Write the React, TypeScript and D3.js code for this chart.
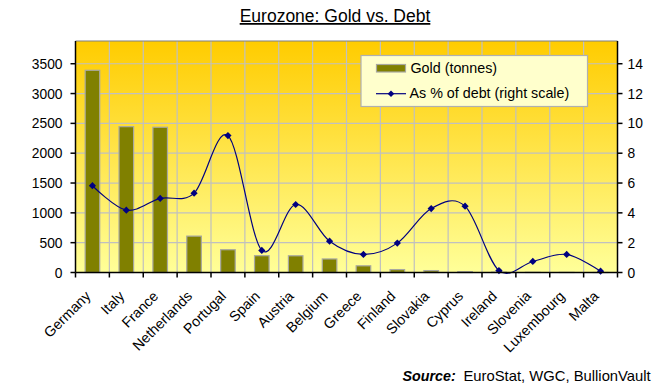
import React from "react";
import * as d3 from "d3";

const countries = ["Germany","Italy","France","Netherlands","Portugal","Spain","Austria","Belgium","Greece","Finland","Slovakia","Cyprus","Ireland","Slovenia","Luxembourg","Malta"];
const goldTonnes = [3390,2445,2435,610,382,282,280,227,112,49,32,14,6,3,2,0.3];
const pctOfDebt = [5.82,4.18,4.97,5.32,9.18,1.48,4.56,2.1,1.21,1.97,4.29,4.45,0.13,0.74,1.21,0.09];
const leftTicks = [0,500,1000,1500,2000,2500,3000,3500];
const rightTicks = [0,2,4,6,8,10,12,14];

const W = 663, H = 384;
const L = 75.5, R = 617.5, T = 41, B = 272.5;

export default function App() {
  const x = d3.scaleBand().domain(countries).range([L, R]).padding(0);
  const yL = d3.scaleLinear().domain([0, 3881]).range([B, T]);
  const yR = d3.scaleLinear().domain([0, 15.524]).range([B, T]);
  const step = x.step();
  const bw = step * 0.43;
  const cx = (c: string) => (x(c) as number) + step / 2;
  const line = d3.line<number>()
    .x((_, i) => cx(countries[i]))
    .y((d) => yR(d))
    .curve(d3.curveCardinal.tension(0));
  const font = "Arial, 'Liberation Sans', sans-serif";
  const diamond = (px: number, py: number, r = 3.6) =>
    `M${px},${py - r}L${px + r},${py}L${px},${py + r}L${px - r},${py}Z`;
  const bounds = d3.range(countries.length + 1).map((i) => L + i * step);

  return (
    <svg width={W} height={H} style={{ position: "absolute", left: 0, top: 0, background: "#fff" }} fontFamily={font}>
      <defs>
        <linearGradient id="bg" x1="0" y1="0" x2="0" y2="1">
          <stop offset="0" stopColor="#FFCC00" />
          <stop offset="1" stopColor="#FFFF99" />
        </linearGradient>
      </defs>
      <text x={335} y={22} textAnchor="middle" fontSize={17.5} textDecoration="underline" fill="#000">Eurozone: Gold vs. Debt</text>
      <rect x={L} y={T} width={R - L} height={B - T} fill="url(#bg)" />
      {bounds.slice(1, -1).map((bx, i) => (
        <line key={"vg" + i} x1={bx} x2={bx} y1={T} y2={B} stroke="#C0C0C0" strokeWidth={1.2} />
      ))}
      {leftTicks.slice(1).map((t) => (
        <line key={"hg" + t} x1={L} x2={R} y1={yL(t)} y2={yL(t)} stroke="#C0C0C0" strokeWidth={1.2} />
      ))}
      <line x1={L} x2={R} y1={T} y2={T} stroke="#808080" strokeWidth={1.2} />
      {countries.map((c, i) => (
        <rect key={"b" + c} x={cx(c) - bw / 2} y={yL(goldTonnes[i])} width={bw} height={B - yL(goldTonnes[i])}
          fill="#808000" stroke="#A8A8A0" strokeWidth={1.2} />
      ))}
      <path d={line(pctOfDebt) || ""} fill="none" stroke="#000080" strokeWidth={1.2} />
      {pctOfDebt.map((v, i) => (
        <path key={"m" + i} d={diamond(cx(countries[i]), yR(v))} fill="#000080" />
      ))}
      {/* axes */}
      <line x1={L} x2={L} y1={T} y2={B} stroke="#000" strokeWidth={1.5} />
      <line x1={R} x2={R} y1={T} y2={B} stroke="#000" strokeWidth={1.5} />
      <line x1={L} x2={R} y1={B} y2={B} stroke="#000" strokeWidth={1.5} />
      {leftTicks.map((t) => (
        <g key={"lt" + t}>
          <line x1={L - 5} x2={L} y1={yL(t)} y2={yL(t)} stroke="#000" strokeWidth={1.5} />
          <text x={62.5} y={yL(t) + 5} textAnchor="end" fontSize={13.8} fill="#000">{t}</text>
        </g>
      ))}
      {rightTicks.map((t) => (
        <g key={"rt" + t}>
          <line x1={R} x2={R + 5} y1={yR(t)} y2={yR(t)} stroke="#000" strokeWidth={1.5} />
          <text x={627.5} y={yR(t) + 5} textAnchor="start" fontSize={13.8} fill="#000">{t}</text>
        </g>
      ))}
      {bounds.map((bx, i) => (
        <line key={"bt" + i} x1={bx} x2={bx} y1={B} y2={B + 5} stroke="#000" strokeWidth={1.5} />
      ))}
      {countries.map((c) => (
        <text key={"cl" + c} transform={`translate(${cx(c) - 1},${297}) rotate(-45)`} textAnchor="end"
          fontSize={14.3} fill="#000">{c}</text>
      ))}
      {/* legend */}
      <rect x={361} y={55.5} width={226.5} height={51} fill="#FFFFCC" stroke="#B0B0B0" strokeWidth={1.2} />
      <rect x={376.5} y={64.5} width={29} height={7.5} fill="#808000" stroke="#A8A8A0" strokeWidth={1.2} />
      <text x={410.5} y={72.8} fontSize={14.3} fill="#000">Gold (tonnes)</text>
      <line x1={376} x2={406} y1={93.7} y2={93.7} stroke="#000080" strokeWidth={1.2} />
      <path d={diamond(391, 93.7, 3.3)} fill="#000080" />
      <text x={409.5} y={98.3} fontSize={14.3} fill="#000">As % of debt (right scale)</text>
      {/* source */}
      <text x={402.5} y={381} fontSize={14.3} fontWeight="bold" fontStyle="italic" fill="#000">Source:</text>
      <text x={463.5} y={381} textAnchor="start" fontSize={14.8} fill="#000">EuroStat, WGC, BullionVault</text>
    </svg>
  );
}
